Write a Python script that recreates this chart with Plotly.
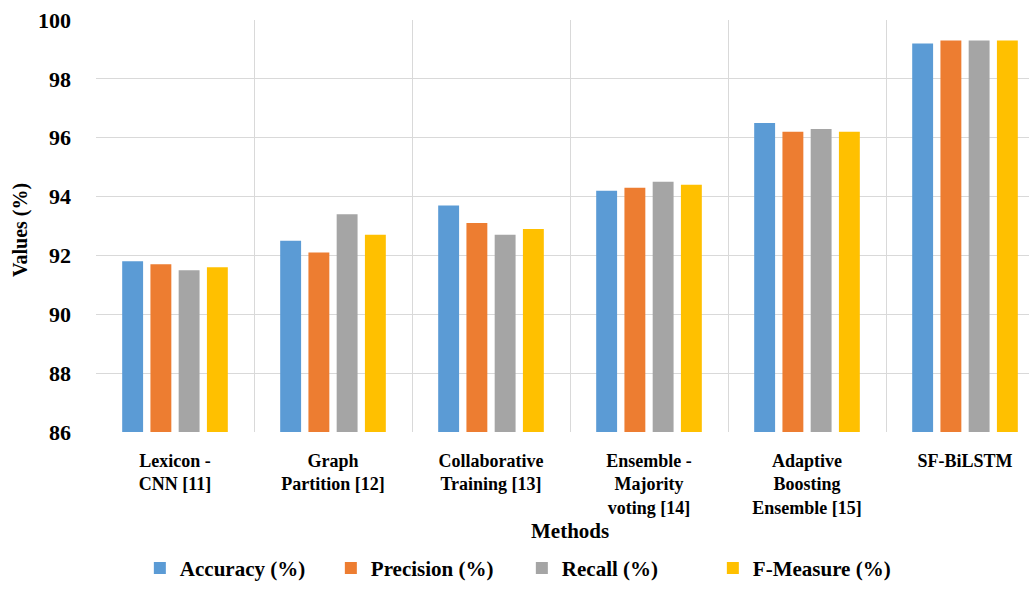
import plotly.graph_objects as go

methods = [
    "Lexicon -<br>CNN [11]",
    "Graph<br>Partition [12]",
    "Collaborative<br>Training [13]",
    "Ensemble -<br>Majority<br>voting [14]",
    "Adaptive<br>Boosting<br>Ensemble [15]",
    "SF-BiLSTM",
]
accuracy = [91.8, 92.5, 93.7, 94.2, 96.5, 99.2]
precision = [91.7, 92.1, 93.1, 94.3, 96.2, 99.3]
recall = [91.5, 93.4, 92.7, 94.5, 96.3, 99.3]
f_measure = [91.6, 92.7, 92.9, 94.4, 96.2, 99.3]

series = [
    ("Accuracy (%)", accuracy, "#5B9BD5"),
    ("Precision (%)", precision, "#ED7D31"),
    ("Recall (%)", recall, "#A5A5A5"),
    ("F-Measure (%)", f_measure, "#FFC000"),
]

FONT = "Liberation Serif"

fig = go.Figure()
for name, vals, color in series:
    fig.add_trace(go.Bar(
        name=name, x=methods, y=[v - 86 for v in vals], base=86,
        marker=dict(color=color, line=dict(width=0)),
        hovertext=[f"{v}" for v in vals],
    ))

fig.update_layout(
    width=1029, height=589,
    margin=dict(l=96, r=0, t=20, b=157, autoexpand=False),
    paper_bgcolor="white", plot_bgcolor="white",
    barmode="group", bargap=0.285, bargroupgap=0.26,
    font=dict(family=FONT, color="#000000", size=20, weight="bold"),
    showlegend=True,
    legend=dict(
        orientation="h", x=0.047, xanchor="left", y=-0.381, yanchor="bottom",
        font=dict(family=FONT, size=21, weight="bold"),
        entrywidth=146, itemwidth=30, tracegroupgap=0,
    ),
    xaxis=dict(
        type="category", range=[-0.5, 5.405],
        tickson="boundaries", showgrid=True, gridcolor="#D9D9D9", gridwidth=1,
        ticks="", showline=False, zeroline=False,
        tickfont=dict(family=FONT, size=18, weight="bold"),
        ticklabelstandoff=16,
    ),
    yaxis=dict(
        range=[86, 100], dtick=2, showgrid=True, gridcolor="#D9D9D9", gridwidth=1,
        zeroline=False, showline=False, ticks="",
        tickfont=dict(family=FONT, size=22, weight="bold"),
        ticklabelstandoff=24,
    ),
    annotations=[
        dict(text="Values (%)", xref="paper", yref="paper", x=-0.0815, y=0.49,
             xanchor="center", yanchor="middle", textangle=-90, showarrow=False,
             font=dict(family=FONT, size=20, weight="bold")),
        dict(text="Methods", xref="x", yref="paper", x=2.5, y=-0.240,
             xanchor="center", yanchor="middle", showarrow=False,
             font=dict(family=FONT, size=21, weight="bold")),
    ],
)

fig.write_html("out.html")
